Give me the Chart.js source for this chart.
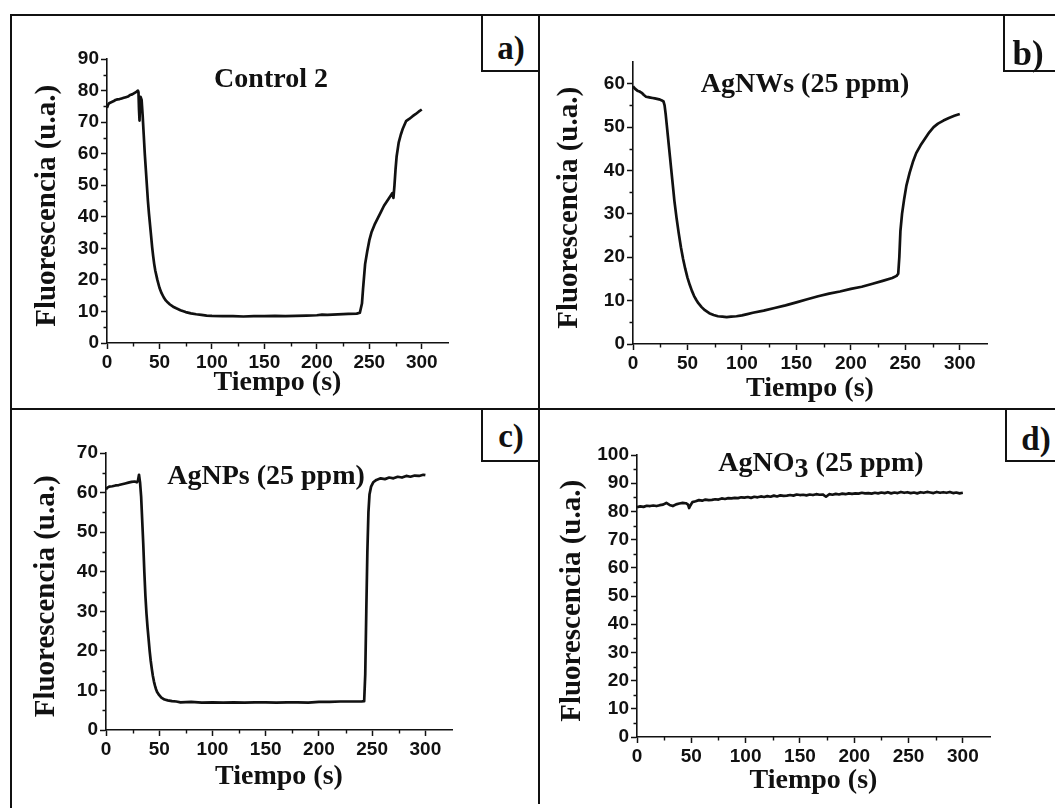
<!DOCTYPE html>
<html>
<head>
<meta charset="utf-8">
<script src="https://cdn.jsdelivr.net/npm/chart.js@4.4.0/dist/chart.umd.min.js"></script>
<style>
  html, body { margin: 0; padding: 0; background: #fff; }
  #fig { position: relative; width: 1055px; height: 808px; overflow: hidden; background: #fff; }
  #fig canvas { position: absolute; }
  .rule { position: absolute; background: #111; }
  .tagbox { position: absolute; box-sizing: border-box; border: 2px solid #111; background: #fff; }
  .tag, .ptitle { position: absolute; white-space: nowrap; transform: translateX(-50%); color: #111;
                  font-family: 'Liberation Serif', 'Times New Roman', serif; font-weight: bold; }
  .ptitle { font-size: 28px; line-height: 28px; }
  .ptitle sub { font-size: 28px; vertical-align: baseline; position: relative; top: 6px; }
</style>
</head>
<body>
<div id="fig">
  <canvas id="cA" width="526" height="390" style="left:12px;top:20px"></canvas>
  <canvas id="cB" width="513" height="390" style="left:542px;top:20px"></canvas>
  <canvas id="cC" width="526" height="392" style="left:12px;top:412px"></canvas>
  <canvas id="cD" width="513" height="392" style="left:542px;top:412px"></canvas>

  <!-- frame and dividers -->
  <div class="rule" style="left:10px;top:14px;width:1045px;height:2px"></div>
  <div class="rule" style="left:10px;top:14px;width:2px;height:794px"></div>
  <div class="rule" style="left:538px;top:14px;width:2px;height:790px"></div>
  <div class="rule" style="left:10px;top:408px;width:1045px;height:2px"></div>

  <!-- panel letters -->
  <div class="tagbox" style="left:481px;top:14px;width:59px;height:58px"></div>
  <div class="tagbox" style="left:1003px;top:14px;width:60px;height:58px"></div>
  <div class="tagbox" style="left:481px;top:408px;width:59px;height:54px"></div>
  <div class="tagbox" style="left:1005px;top:408px;width:60px;height:54px"></div>
  <div class="tag" style="left:511px;top:32px;font-size:33px;line-height:33px">a)</div>
  <div class="tag" style="left:1028px;top:36px;font-size:35px;line-height:35px">b)</div>
  <div class="tag" style="left:511px;top:420px;font-size:33px;line-height:33px">c)</div>
  <div class="tag" style="left:1036px;top:423px;font-size:33px;line-height:33px">d)</div>

  <!-- panel titles -->
  <div class="ptitle" style="left:271px;top:64px">Control 2</div>
  <div class="ptitle" style="left:805px;top:69px">AgNWs (25 ppm)</div>
  <div class="ptitle" style="left:266px;top:461px">AgNPs (25 ppm)</div>
  <div class="ptitle" style="left:821px;top:448px">AgNO<sub>3</sub> (25 ppm)</div>
</div>

<script>
// ---- measured fluorescence traces (time in s, intensity in a.u.) ----
const timeControl = [0, 1, 2, 4, 6, 8, 10, 12, 14, 16, 18, 20, 22, 24, 26, 28, 29.5, 30, 30.5, 31, 31.5, 32, 33, 34, 35, 36, 37, 38, 39, 40,
  41, 42, 43, 44, 45, 46, 48, 50, 52, 54, 56, 58, 60, 63, 66, 70, 75, 80, 85, 90, 95, 100, 110, 120, 130, 140, 150, 160, 170, 180,
  190, 200, 205, 210, 220, 230, 238, 241, 243, 244, 245, 246, 248, 250, 252, 255, 258, 261, 264, 267, 270, 272, 273, 274, 275, 276,
  278, 280, 282, 285, 288, 291, 294, 297, 300];
const fluorControl = [74.5, 75.5, 76.0, 76.3, 76.6, 77.0, 77.2, 77.3, 77.5, 77.7, 77.9, 78.1, 78.6, 78.8, 79.2, 79.6, 80.0, 79.5, 74, 70.5,
  76.5, 78, 77, 72, 66, 60, 55, 50, 45, 41, 37.5, 34, 30.5, 27.5, 25, 23, 20, 17.5, 15.8, 14.5, 13.5, 12.8, 12.2, 11.5, 11.0, 10.4, 9.8,
  9.4, 9.1, 8.9, 8.7, 8.6, 8.5, 8.5, 8.4, 8.5, 8.5, 8.6, 8.5, 8.6, 8.7, 8.8, 9.0, 8.9, 9.1, 9.2, 9.3, 9.6, 12.5, 17, 21, 25, 29, 32.5,
  35, 37.5, 39.5, 41.5, 43.5, 45, 46.5, 47.5, 46.0, 50, 55, 59, 63.5, 66, 68, 70.3, 71, 71.8, 72.5, 73.3, 74.0];

const timeNW = [0, 2, 4, 6, 8, 10, 12, 14, 16, 18, 20, 22, 24, 26, 28, 29, 30, 31, 32, 33, 34, 35, 36, 37, 38, 40, 42, 44, 46, 48, 50,
  52, 54, 56, 58, 60, 63, 66, 70, 74, 78, 82, 86, 90, 95, 100, 105, 110, 120, 130, 140, 150, 160, 170, 180, 190, 200, 210, 220, 230,
  238, 242, 243.5, 244.5, 245.5, 247, 249, 251, 254, 257, 260, 264, 268, 272, 276, 280, 285, 290, 295, 300];
const fluorNW = [59.4, 58.8, 58.4, 58.2, 57.9, 57.4, 57.0, 56.9, 56.8, 56.7, 56.6, 56.5, 56.4, 56.2, 55.9, 55.0, 53.0, 50.5, 48, 45.5,
  43, 40.5, 38, 35.5, 33, 29, 25.5, 22.3, 19.6, 17.3, 15.3, 13.7, 12.3, 11.1, 10.2, 9.4, 8.5, 7.8, 7.1, 6.7, 6.4, 6.3, 6.2, 6.3, 6.4,
  6.6, 6.9, 7.2, 7.7, 8.3, 8.9, 9.6, 10.3, 11.0, 11.6, 12.1, 12.7, 13.2, 13.9, 14.6, 15.2, 15.7, 16.2, 20, 26, 30, 33.5, 36.5, 39.5,
  42, 44, 45.8, 47.3, 48.8, 50, 50.8, 51.5, 52.1, 52.6, 53.0];

const timeNP = [0, 1, 3, 6, 9, 12, 15, 18, 21, 24, 27, 29, 30, 31, 32, 33, 34, 35, 36, 37, 38, 39, 40, 41, 42, 43, 44, 45, 46, 47, 48,
  50, 52, 55, 58, 62, 66, 70, 80, 90, 100, 110, 120, 130, 140, 150, 160, 170, 180, 190, 200, 210, 220, 230, 240, 242.5, 243.5, 244.5,
  245.5, 246.5, 247.5, 249, 251, 254, 258, 262, 266, 270, 274, 278, 282, 286, 290, 294, 298, 300];
const fluorNP = [60.8, 61.2, 61.5, 61.6, 61.8, 61.9, 62.1, 62.3, 62.5, 62.7, 62.8, 62.6, 63.0, 64.5, 62.5, 59, 53, 47, 40, 34, 29.5, 26,
  23, 20, 17.5, 15.5, 13.7, 12.3, 11.2, 10.3, 9.6, 8.8, 8.2, 7.7, 7.5, 7.3, 7.2, 7.0, 7.1, 6.9, 7.0, 6.9, 7.0, 6.9, 7.0, 7.0, 6.9, 7.0,
  7.0, 6.9, 7.1, 7.1, 7.2, 7.2, 7.2, 7.3, 14, 30, 45, 55, 59.5, 61.5, 62.6, 63.2, 63.6, 63.4, 63.8, 63.6, 64.0, 63.8, 64.2, 64.0, 64.3,
  64.2, 64.5, 64.4];

const timeNO3 = [0, 3, 6, 9, 12, 15, 18, 21, 24, 27, 30, 33, 36, 39, 42, 45, 47, 48, 49, 51, 54, 57, 60, 63, 66, 69, 72, 75, 78, 81,
  84, 87, 90, 93, 96, 99, 102, 105, 108, 111, 114, 117, 120, 123, 126, 129, 132, 135, 138, 141, 144, 147, 150, 153, 156, 159, 162,
  165, 168, 171, 174, 177, 180, 183, 186, 189, 192, 195, 198, 201, 204, 207, 210, 213, 216, 219, 222, 225, 228, 231, 234, 237, 240,
  243, 246, 249, 252, 255, 258, 261, 264, 267, 270, 273, 276, 279, 282, 285, 288, 291, 294, 297, 300];
const fluorNO3 = [81.5, 81.8, 81.6, 82.0, 81.9, 82.1, 81.9, 82.2, 82.4, 83.0, 82.3, 81.9, 82.5, 82.8, 83.0, 82.9, 82.4, 81.2, 82.0,
  83.3, 83.6, 84.0, 83.8, 84.2, 84.0, 84.1, 84.3, 84.2, 84.6, 84.4, 84.7, 84.6, 84.8, 84.7, 85.0, 84.9, 85.1, 84.8, 85.2, 85.0, 85.3,
  85.1, 85.4, 85.2, 85.6, 85.3, 85.7, 85.5, 85.6, 85.8, 85.6, 86.0, 85.8, 85.9, 85.7, 86.0, 85.8, 86.1, 85.9, 86.0, 85.2, 86.1, 85.9,
  86.2, 86.0, 86.3, 86.1, 86.4, 86.2, 86.4, 86.3, 86.6, 86.4, 86.5, 86.3, 86.6, 86.4, 86.7, 86.5, 86.8, 86.4, 86.7, 86.5, 86.9, 86.6,
  86.8, 86.5, 86.7, 86.4, 86.8, 86.6, 86.9, 86.7, 86.5, 86.9, 86.6, 86.8, 86.6, 86.9, 86.5, 86.7, 86.4, 86.6];

// ---- axis ticks ----
const timeTicks = [0, 50, 100, 150, 200, 250, 300];
const yTicksControl = [0, 10, 20, 30, 40, 50, 60, 70, 80, 90];
const yTicksNW = [0, 10, 20, 30, 40, 50, 60];
const yTicksNP = [0, 10, 20, 30, 40, 50, 60, 70];
const yTicksNO3 = [0, 10, 20, 30, 40, 50, 60, 70, 80, 90, 100];

const INK = '#111';
const TICK_FONT = { family: "'Liberation Sans', Arial, sans-serif", weight: 'bold', size: 19 };
const X_TITLE_FONT = { family: "'Liberation Serif', 'Times New Roman', serif", weight: 'bold', size: 28, lineHeight: 1.2 };
const Y_TITLE_FONT = { family: "'Liberation Serif', 'Times New Roman', serif", weight: 'bold', size: 29, lineHeight: 1.2 };
// the trailing three-per-em space nudges the rotated label slightly toward the axis origin
const Y_TITLE = 'Fluorescencia (u.a.)\u2004';

// small unlabeled ticks halfway between the labelled ones
const minorTicks = {
  id: 'minorTicks',
  afterDraw(chart) {
    const { ctx } = chart;
    const xs = chart.scales.x, ys = chart.scales.y;
    const mids = ticks => ticks.slice(1).map((t, i) => (ticks[i].value + t.value) / 2);
    ctx.save();
    ctx.strokeStyle = INK;
    ctx.lineWidth = 1.4;
    ctx.beginPath();
    for (const v of mids(xs.ticks)) {
      const p = Math.round(xs.getPixelForValue(v)) + 0.5;
      ctx.moveTo(p, xs.top);
      ctx.lineTo(p, xs.top + 3.5);
    }
    for (const v of mids(ys.ticks)) {
      const p = Math.round(ys.getPixelForValue(v)) + 0.5;
      ctx.moveTo(ys.right, p);
      ctx.lineTo(ys.right - 3.5, p);
    }
    ctx.stroke();
    ctx.restore();
  }
};

function panel(canvasId, times, values, yMax, yTicks, box) {
  const points = times.map((t, i) => ({ x: t, y: values[i] }));
  return new Chart(document.getElementById(canvasId), {
    type: 'line',
    data: {
      datasets: [{
        data: points,
        borderColor: INK,
        borderWidth: 2.7,
        pointRadius: 0,
        tension: 0,
        borderJoinStyle: 'round',
        fill: false
      }]
    },
    options: {
      responsive: false,
      animation: false,
      devicePixelRatio: 1,
      events: [],
      layout: { padding: { top: box.padTop, right: box.padRight, left: 0, bottom: 0 } },
      plugins: { legend: { display: false }, tooltip: { enabled: false }, title: { display: false } },
      scales: {
        x: {
          type: 'linear',
          min: 0,
          max: 325,
          afterBuildTicks: s => { s.ticks = timeTicks.map(v => ({ value: v })); },
          afterFit: s => { s.height = box.xHeight; },
          grid: { display: true, drawOnChartArea: false, drawTicks: true, tickLength: 6, tickWidth: 1.5, tickColor: INK },
          border: { display: true, color: INK, width: 1.6 },
          ticks: { font: TICK_FONT, color: INK, padding: 2, maxRotation: 0, autoSkip: false },
          title: { display: true, text: 'Tiempo (s)', color: INK, font: X_TITLE_FONT, padding: { top: 0, bottom: box.xTitlePad } }
        },
        y: {
          type: 'linear',
          min: 0,
          max: yMax,
          afterBuildTicks: s => { s.ticks = yTicks.map(v => ({ value: v })); },
          afterFit: s => { s.width = box.yWidth; },
          grid: { display: true, drawOnChartArea: false, drawTicks: true, tickLength: 6, tickWidth: 1.5, tickColor: INK },
          border: { display: true, color: INK, width: 1.6 },
          ticks: { font: TICK_FONT, color: INK, padding: 2, autoSkip: false },
          title: { display: true, text: Y_TITLE, color: INK, font: Y_TITLE_FONT, padding: { top: box.yTitlePad, bottom: 0 } }
        }
      }
    },
    plugins: [minorTicks]
  });
}

panel('cA', timeControl, fluorControl, 90, yTicksControl,
  { padTop: 39, padRight: 90, yWidth: 95, xHeight: 67, yTitlePad: 18, xTitlePad: 10 });
panel('cB', timeNW, fluorNW, 65, yTicksNW,
  { padTop: 42, padRight: 68, yWidth: 91, xHeight: 66, yTitlePad: 10, xTitlePad: 4 });
panel('cC', timeNP, fluorNP, 70, yTicksNP,
  { padTop: 41, padRight: 86, yWidth: 94, xHeight: 74, yTitlePad: 17, xTitlePad: 10 });
panel('cD', timeNO3, fluorNO3, 100, yTicksNO3,
  { padTop: 43, padRight: 65, yWidth: 95, xHeight: 67, yTitlePad: 13, xTitlePad: 6 });
</script>
</body>
</html>
